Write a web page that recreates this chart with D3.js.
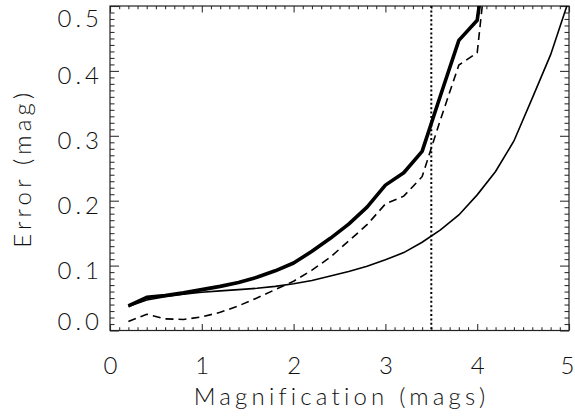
<!DOCTYPE html>
<html>
<head>
  <style>
    body {
      margin: 0;
      background: #fff;
    }
    text {
      font-family: Lato, sans-serif;
      font-weight: 300;
      fill: #111;
    }
    .tick text {
      font-size: 24px;
    }
    .y-lab .tick text {
      letter-spacing: 4px;
    }
    .axis-title {
      font-size: 24px;
      letter-spacing: 4.2px;
      text-anchor: middle;
    }
    .axis line {
      stroke: #333;
      stroke-width: 1.1;
    }
    .axis .domain {
      display: none;
    }
  </style>
</head>
<body>
  <script src="https://d3js.org/d3.v7.min.js"></script>
  <script>
    var mags = [0.2, 0.4, 0.6, 0.8, 1.0, 1.2, 1.4, 1.6, 1.8, 2.0, 2.2, 2.4, 2.6, 2.8, 3.0, 3.2, 3.4, 3.6, 3.8, 4.0, 4.2, 4.4, 4.6, 4.8, 5.0];

    // thick solid
    var errTotal = [0.038, 0.051, 0.054, 0.058, 0.063, 0.068, 0.074, 0.082, 0.092, 0.104, 0.122, 0.142, 0.164, 0.190, 0.224, 0.243, 0.276, 0.362, 0.447, 0.478, 0.68];
    // dashed
    var errDashed = [0.014, 0.025, 0.018, 0.017, 0.021, 0.028, 0.038, 0.050, 0.063, 0.076, 0.093, 0.113, 0.138, 0.163, 0.195, 0.207, 0.237, 0.325, 0.409, 0.428, 0.69];
    // thin solid
    var errThin = [0.037, 0.047, 0.052, 0.056, 0.059, 0.061, 0.063, 0.065, 0.068, 0.072, 0.077, 0.084, 0.091, 0.099, 0.109, 0.120, 0.136, 0.155, 0.178, 0.209, 0.245, 0.292, 0.358, 0.425, 0.51];

    var cutoff = 3.5;

    var xTicks = [0, 1, 2, 3, 4, 5];
    var yTicks = [0, 0.1, 0.2, 0.3, 0.4, 0.5];

    var margin = {top: 6, right: 6, bottom: 86.5, left: 110};
    var W = 575, H = 417;
    var width = W - margin.left - margin.right,
        height = H - margin.top - margin.bottom;

    var svg = d3.select("body").append("svg")
        .attr("width", W)
        .attr("height", H)
      .append("g")
        .attr("transform", "translate(" + margin.left + "," + margin.top + ")");

    var x = d3.scaleLinear().domain([0, 5]).range([0, width]);
    var y = d3.scaleLinear().domain([0, 0.5]).range([height, 0]);

    var xMinor = d3.range(0, 50).map(function(i){ return i / 10; }).filter(function(d){ return d % 1 !== 0; });
    var yMinor = d3.range(0, 50).map(function(i){ return i / 100; }).filter(function(d, i){ return i % 10 !== 0; });

    svg.append("defs").append("clipPath").attr("id", "clip")
      .append("rect").attr("width", width).attr("height", height);

    // minor ticks, all four sides
    svg.append("g").attr("class", "axis")
        .attr("transform", "translate(0," + height + ")")
        .call(d3.axisBottom(x).tickValues(xMinor).tickSize(-3.3).tickFormat(""));
    svg.append("g").attr("class", "axis")
        .call(d3.axisTop(x).tickValues(xMinor).tickSize(-3.3).tickFormat(""));
    svg.append("g").attr("class", "axis")
        .call(d3.axisLeft(y).tickValues(yMinor).tickSize(-4.5).tickFormat(""));
    svg.append("g").attr("class", "axis")
        .attr("transform", "translate(" + width + ",0)")
        .call(d3.axisRight(y).tickValues(yMinor).tickSize(-4.5).tickFormat(""));

    // major ticks
    var gx = svg.append("g").attr("class", "axis")
        .attr("transform", "translate(0," + height + ")")
        .call(d3.axisBottom(x).tickValues(xTicks).tickSize(-6.5).tickFormat(d3.format("d")));
    gx.selectAll(".tick text")
        .attr("x", function(d){ return d === 5 ? -2 : 0; })
        .attr("y", 35).attr("dy", "0.35em");

    svg.append("g").attr("class", "axis")
        .call(d3.axisTop(x).tickValues(xTicks).tickSize(-6.5).tickFormat(""));

    var gy = svg.append("g").attr("class", "axis y-lab")
        .call(d3.axisLeft(y).tickValues(yTicks).tickSize(-9).tickPadding(7).tickFormat(d3.format(".1f")));
    gy.selectAll(".tick text")
        .attr("y", function(d){ return d === 0 ? -9 : (d === 0.5 ? 12 : 4); })
        .attr("dy", "0.35em");

    svg.append("g").attr("class", "axis")
        .attr("transform", "translate(" + width + ",0)")
        .call(d3.axisRight(y).tickValues(yTicks).tickSize(-9).tickFormat(""));

    // frame
    svg.append("rect")
        .attr("width", width)
        .attr("height", height)
        .attr("fill", "none")
        .attr("stroke", "#222")
        .attr("stroke-width", 1.2);

    var line = function(vals){
      return d3.line()
        .x(function(d, i){ return x(mags[i]); })
        .y(function(d){ return y(d); })(vals);
    };

    var plot = svg.append("g").attr("clip-path", "url(#clip)");

    plot.append("line")
        .attr("x1", x(cutoff)).attr("x2", x(cutoff))
        .attr("y1", 0).attr("y2", height)
        .attr("stroke", "#000")
        .attr("stroke-width", 2)
        .attr("stroke-dasharray", "2,2.4");

    plot.append("path")
        .attr("d", line(errThin))
        .attr("fill", "none")
        .attr("stroke", "#000")
        .attr("stroke-width", 1.6);

    plot.append("path")
        .attr("d", line(errDashed))
        .attr("fill", "none")
        .attr("stroke", "#000")
        .attr("stroke-width", 1.6)
        .attr("stroke-dasharray", "8,5");

    plot.append("path")
        .attr("d", line(errTotal))
        .attr("fill", "none")
        .attr("stroke", "#000")
        .attr("stroke-width", 3.6)
        .attr("stroke-linejoin", "round");

    // axis titles
    svg.append("text")
        .attr("class", "axis-title")
        .attr("x", width / 2 + 2)
        .attr("y", height + 66)
        .attr("dy", "0.35em")
        .text("Magnification (mags)");

    svg.append("text")
        .attr("class", "axis-title")
        .attr("transform", "translate(" + (-87) + "," + (height / 2) + ") rotate(-90)")
        .attr("dy", "0.35em")
        .text("Error (mag)");
  </script>
</body>
</html>
